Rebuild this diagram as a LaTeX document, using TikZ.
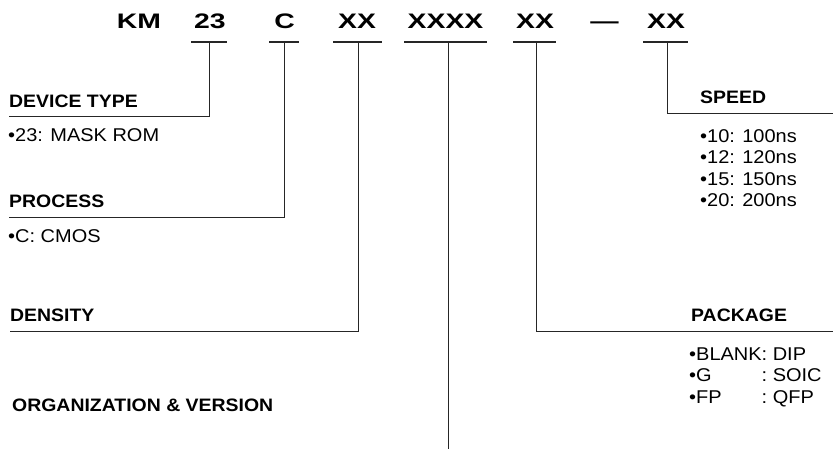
\documentclass[tikz,border=0pt]{standalone}
\usepackage{fontspec}
\setmainfont{Liberation Sans}
% wide bold face for the part-number line
\newfontfamily\codefont[FakeStretch=1.35]{Liberation Sans}
% field headings and option lists
\newfontfamily\headfont[FakeStretch=1.08]{Liberation Sans}
\newfontfamily\bodyfont[FakeStretch=1.08]{Liberation Sans}

\begin{document}
\begin{tikzpicture}[x=1pt,y=-1pt,
  code/.style={font=\codefont\bfseries\fontsize{21}{24}\selectfont, inner sep=0pt, anchor=base},
  head/.style={font=\headfont\bfseries\fontsize{18}{21}\selectfont, inner sep=0pt, anchor=base west},
  item/.style={font=\bodyfont\fontsize{18.5}{21}\selectfont, inner sep=0pt, anchor=base west},
  rule/.style={line width=0.9pt, draw=black!85},
  underline/.style={line width=1.2pt, draw=black!85}]
\useasboundingbox (0,0) rectangle (833,450);

% ---- part number ----
\node[code] (km)   at (139,28)   {KM};
\node[code] (n23)  at (210,28)   {23};
\node[code] (nC)   at (284.5,28) {C};
\node[code] (nD)   at (357,28)   {XX};
\node[code] (nO)   at (445.5,28) {XXXX};
\node[code] (nP)   at (535,28)   {XX};
\node[code] (dash) at (604.5,28) {—};
\node[code] (nS)   at (666,28)   {XX};

% underline bars under each field
\coordinate (u23a) at (191,42);  \coordinate (u23b) at (227,42);
\coordinate (uCa)  at (269,42);  \coordinate (uCb)  at (299,42);
\coordinate (uDa)  at (333,42);  \coordinate (uDb)  at (382,42);
\coordinate (uOa)  at (404,42);  \coordinate (uOb)  at (487,42);
\coordinate (uPa)  at (513,42);  \coordinate (uPb)  at (556,42);
\coordinate (uSa)  at (643,42);  \coordinate (uSb)  at (688,42);
\foreach \f in {23,C,D,O,P,S}
  \draw[underline] (u\f a) -- (u\f b);

% tap points of the leader lines
\coordinate (t23) at (209,42);
\coordinate (tC)  at (284,42);
\coordinate (tD)  at (358,42);
\coordinate (tO)  at (448,42);
\coordinate (tP)  at (536,42);
\coordinate (tS)  at (667,42);

% leader line ends
\coordinate (eDev)  at (9,116);
\coordinate (eProc) at (9,217);
\coordinate (eDens) at (10,331);
\coordinate (eOrg)  at (448,449);
\coordinate (ePkg)  at (833,331);
\coordinate (eSpd)  at (833,113);

\draw[rule] (t23) |- (eDev);
\draw[rule] (tC)  |- (eProc);
\draw[rule] (tD)  |- (eDens);
\draw[rule] (tO)  -- (eOrg);
\draw[rule] (tP)  |- (ePkg);
\draw[rule] (tS)  |- (eSpd);

% ---- left-hand fields ----
\node[head] (hDev)  at (9,107)  {DEVICE TYPE};
\node[item] (iDev)  at (8,141)  {•23: MASK ROM};
\node[head] (hProc) at (9,207)  {PROCESS};
\node[item] (iProc) at (8,242)  {•C: CMOS};
\node[head] (hDens) at (10,321) {DENSITY};
\node[head] (hOrg)  at (12,411) {ORGANIZATION \& VERSION};

% ---- right-hand fields ----
\node[head] (hSpd) at (700,103)   {SPEED};
\node[item] (s10)  at (700,142)   {•10: 100ns};
\node[item] (s12)  at (700,163.5) {•12: 120ns};
\node[item] (s15)  at (700,185)   {•15: 150ns};
\node[item] (s20)  at (700,206.5) {•20: 200ns};

\node[head] (hPkg) at (691,321) {PACKAGE};
\node[item] (pBl)  at (689,360)   {•BLANK: DIP};
\node[item] (pG)   at (689,381.5) {•\rlap{G}\hphantom{BLANK:\ }\llap{:\ }SOIC};
\node[item] (pFP)  at (689,403)   {•\rlap{FP}\hphantom{BLANK:\ }\llap{:\ }QFP};
\end{tikzpicture}
\end{document}
